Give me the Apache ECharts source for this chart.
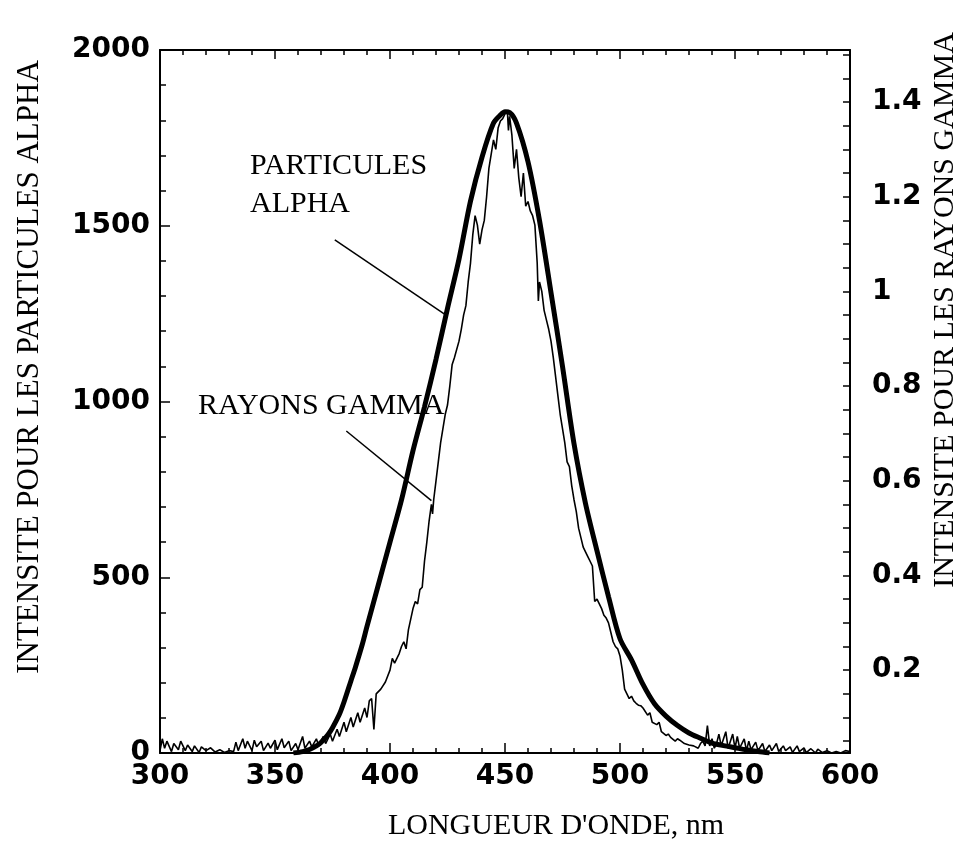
<!DOCTYPE html>
<html>
<head>
<meta charset="utf-8">
<script src="https://cdn.jsdelivr.net/npm/echarts@6/dist/echarts.min.js"></script>
<style>
  html, body { margin: 0; padding: 0; background: #fff; }
  #chart { width: 964px; height: 843px; }
</style>
</head>
<body>
<div id="chart"></div>
<script>
// longueur d'onde (nm) et intensite - particules alpha (axe gauche)
var alphaNm  = [358, 362, 365, 368, 370, 373, 375, 378, 380, 383, 385, 388, 390, 395, 400, 405, 410, 415, 420, 425, 430, 435, 440, 445, 448, 450, 452, 455, 460, 465, 470, 475, 480, 485, 490, 495, 500, 505, 510, 515, 520, 525, 530, 535, 540, 545, 550, 555, 560, 565];
var alphaVal = [0, 4, 10, 20, 30, 52, 72, 110, 145, 205, 245, 310, 360, 480, 600, 720, 860, 985, 1120, 1265, 1405, 1570, 1695, 1792, 1815, 1824, 1822, 1792, 1682, 1515, 1310, 1100, 880, 710, 575, 445, 325, 265, 195, 140, 105, 78, 57, 42, 28, 21, 15, 9, 4, 0];

// rayons gamma (axe droit), releve point par point sur la figure
var gammaPoints = [
  [300,0.03],[301,0.055],[302,0.035],[303,0.05],[305,0.028],[306,0.045],[308,0.032],[309,0.05],[311,0.03],[312,0.042],
  [314,0.028],[315,0.04],[317,0.026],[318,0.038],[320,0.03],[322,0.036],[324,0.027],[326,0.032],[328,0.026],[330,0.03],
  [332,0.028],[333,0.048],[334,0.03],[336,0.055],[337,0.035],[338,0.05],[340,0.03],[341,0.052],[342,0.038],[344,0.05],
  [345,0.03],[347,0.046],[348,0.035],[350,0.052],[351,0.032],[353,0.055],[354,0.036],[356,0.05],[357,0.03],[359,0.045],
  [360,0.032],[362,0.06],[363,0.035],[365,0.05],[366,0.038],[368,0.055],[369,0.04],[371,0.06],[372,0.045],[374,0.065],
  [375,0.05],[377,0.075],[378,0.06],[380,0.09],[381,0.07],[383,0.1],[384,0.08],[386,0.11],[387,0.09],[389,0.12],
  [390,0.1],[391,0.135],[392,0.14],[393,0.075],[394,0.15],[396,0.16],[398,0.175],[400,0.2],[401,0.225],[402,0.215],
  [404,0.235],[405,0.25],[406,0.26],[407,0.245],[408,0.285],[410,0.33],[411,0.345],[412,0.34],[413,0.37],[414,0.375],
  [415,0.43],[416,0.47],[417,0.515],[418,0.55],[418.5,0.53],[419,0.56],[420,0.6],[421,0.64],[422,0.68],[424,0.74],
  [425,0.76],[426,0.8],[427,0.845],[428,0.86],[430,0.895],[431,0.92],[432,0.95],[433,0.97],[434,1.02],[435,1.06],
  [436,1.12],[437,1.16],[438,1.14],[439,1.1],[440,1.13],[441,1.15],[442,1.2],[443,1.26],[444,1.29],[445,1.32],
  [446,1.3],[447,1.345],[448,1.36],[449,1.365],[450,1.375],[451,1.383],[451.5,1.34],[452,1.37],[453,1.33],[454,1.26],
  [455,1.3],[456,1.24],[457,1.2],[458,1.25],[459,1.18],[460,1.19],[461,1.17],[462,1.16],[463,1.14],[464,1.06],
  [464.5,0.98],[465,1.02],[466,1.0],[467,0.96],[468,0.94],[469,0.92],[470,0.895],[471,0.86],[472,0.82],[473,0.78],
  [474,0.74],[475,0.71],[476,0.68],[477,0.64],[478,0.63],[479,0.59],[480,0.56],[481,0.535],[482,0.5],[483,0.48],
  [484,0.46],[485,0.45],[486,0.44],[487,0.43],[488,0.42],[489,0.345],[490,0.35],[491,0.34],[492,0.33],[493,0.316],
  [494,0.31],[495,0.3],[496,0.28],[497,0.26],[498,0.25],[499,0.245],[500,0.23],[501,0.2],[502,0.16],[503,0.15],
  [504,0.14],[505,0.145],[506,0.135],[507,0.13],[508,0.126],[509,0.125],[510,0.12],[512,0.105],[513,0.11],[514,0.09],
  [516,0.085],[517,0.09],[518,0.07],[520,0.062],[521,0.065],[522,0.058],[524,0.05],[525,0.055],[526,0.052],[528,0.045],
  [530,0.042],[532,0.04],[534,0.035],[535,0.045],[536,0.05],[537,0.04],[538,0.083],[539,0.04],[540,0.055],[541,0.035],
  [542,0.045],[543,0.065],[544,0.04],[546,0.07],[547,0.035],[548,0.05],[549,0.065],[550,0.035],[551,0.06],[552,0.035],
  [554,0.055],[555,0.03],[556,0.05],[557,0.032],[559,0.048],[560,0.03],[562,0.045],[563,0.028],[565,0.042],[566,0.03],
  [568,0.045],[569,0.028],[571,0.04],[572,0.03],[574,0.038],[575,0.026],[577,0.04],[578,0.028],[580,0.036],[581,0.026],
  [583,0.034],[585,0.025],[586,0.033],[588,0.026],[590,0.03],[592,0.025],[594,0.028],[596,0.025],[598,0.03],[600,0.028]
];

// graduations de l'axe droit
var rightLabels = [0.2, 0.4, 0.6, 0.8, 1, 1.2, 1.4];
var rightTicks = [0.05, 0.1, 0.15, 0.2, 0.25, 0.3, 0.35, 0.4, 0.45, 0.5, 0.55, 0.6, 0.65, 0.7, 0.75, 0.8,
                  0.85, 0.9, 0.95, 1, 1.05, 1.1, 1.15, 1.2, 1.25, 1.3, 1.35, 1.4, 1.45, 1.5];

// traits de rappel des annotations (en unites de l'axe gauche)
var alphaPointer = [[376, 1460], [425, 1243]];
var gammaPointer = [[381, 916], [418, 718]];

var alphaData = alphaNm.map(function (x, i) { return [x, alphaVal[i]]; });

var labelFont = { color: '#000', fontFamily: 'DejaVu Sans', fontWeight: 'bold', fontSize: 28 };
var serif = '30px "Liberation Serif"';

var myChart = echarts.init(document.getElementById('chart'));
var option = {
    backgroundColor: '#fff',
    animation: false,
    grid: { left: 160, right: 114, top: 50, bottom: 90 },
    xAxis: [
        {
            type: 'value', min: 300, max: 600, interval: 50,
            axisLine: { lineStyle: { color: '#000', width: 2 } },
            axisTick: { inside: true, length: 10, lineStyle: { color: '#000', width: 1.5 } },
            minorTick: { show: true, splitNumber: 5, length: 5, lineStyle: { color: '#000', width: 1.5 } },
            splitLine: { show: false },
            axisLabel: Object.assign({ margin: 10 }, labelFont)
        },
        {
            type: 'value', position: 'top', min: 300, max: 600, interval: 50,
            axisLine: { lineStyle: { color: '#000', width: 2 } },
            axisTick: { inside: true, length: 9, lineStyle: { color: '#000', width: 1.5 } },
            minorTick: { show: true, splitNumber: 5, length: 5, lineStyle: { color: '#000', width: 1.5 } },
            splitLine: { show: false },
            axisLabel: { show: false }
        }
    ],
    yAxis: [
        {
            type: 'value', min: 0, max: 2000, interval: 500,
            axisLine: { show: true, lineStyle: { color: '#000', width: 2 } },
            axisTick: { show: true, inside: true, length: 10, lineStyle: { color: '#000', width: 1.5 } },
            minorTick: { show: true, splitNumber: 5, length: 6, lineStyle: { color: '#000', width: 1.5 } },
            splitLine: { show: false },
            axisLabel: Object.assign({
                margin: 10,
                formatter: function (v) { return String(v); }
            }, labelFont)
        },
        {
            type: 'value', position: 'right', min: 0.025, max: 1.51,
            axisLine: { show: true, lineStyle: { color: '#000', width: 2 } },
            axisTick: { show: true, inside: true, length: 7, customValues: rightTicks, lineStyle: { color: '#000', width: 1.5 } },
            splitLine: { show: false },
            axisLabel: Object.assign({
                margin: 22,
                customValues: rightLabels,
                formatter: function (v) { return String(parseFloat(v.toFixed(2))); }
            }, labelFont)
        }
    ],
    graphic: [
        { type: 'text', left: 250, top: 147, style: { text: 'PARTICULES\nALPHA', font: serif, fill: '#000', lineHeight: 38 } },
        { type: 'text', left: 198, top: 387, style: { text: 'RAYONS GAMMA', font: serif, fill: '#000', lineHeight: 38 } },
        { type: 'text', x: 556, y: 826, style: { text: "LONGUEUR D'ONDE, nm", font: serif, fill: '#000', align: 'center', verticalAlign: 'middle' } },
        { type: 'text', x: 30, y: 367, rotation: Math.PI / 2, style: { text: 'INTENSITE POUR LES PARTICULES ALPHA', font: '31px "Liberation Serif"', fill: '#000', align: 'center', verticalAlign: 'middle' } },
        { type: 'text', x: 945, y: 310, rotation: Math.PI / 2, style: { text: 'INTENSITE POUR LES RAYONS GAMMA', font: serif, fill: '#000', align: 'center', verticalAlign: 'middle' } }
    ],
    series: [
        {
            name: 'RAYONS GAMMA',
            type: 'line',
            xAxisIndex: 0, yAxisIndex: 1,
            data: gammaPoints,
            showSymbol: false,
            lineStyle: { color: '#000', width: 1.6 },
            z: 2
        },
        {
            name: 'PARTICULES ALPHA',
            type: 'line',
            xAxisIndex: 0, yAxisIndex: 0,
            data: alphaData,
            smooth: 0.3,
            showSymbol: false,
            lineStyle: { color: '#000', width: 5 },
            z: 3,
            markLine: {
                silent: true,
                symbol: 'none',
                label: { show: false },
                lineStyle: { color: '#000', width: 1.5, type: 'solid' },
                data: [
                    [{ coord: alphaPointer[0] }, { coord: alphaPointer[1] }],
                    [{ coord: gammaPointer[0] }, { coord: gammaPointer[1] }]
                ]
            }
        }
    ]
};
myChart.setOption(option);
</script>
</body>
</html>
